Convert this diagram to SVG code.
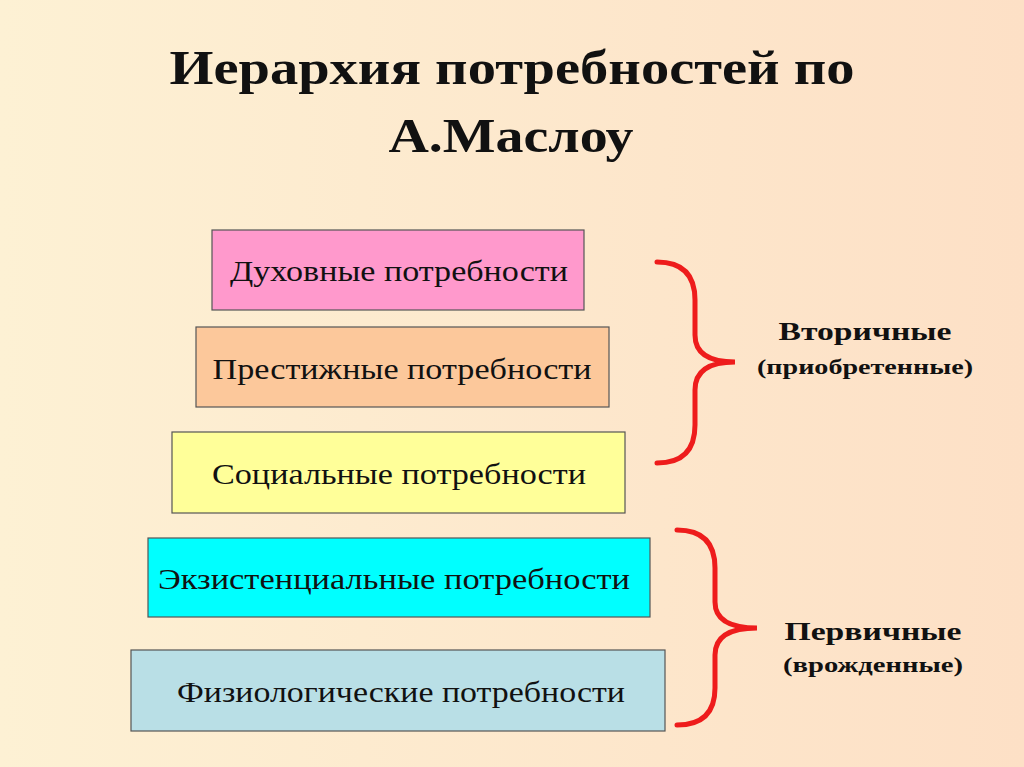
<svg xmlns="http://www.w3.org/2000/svg" width="1024" height="767" viewBox="0 0 1024 767">
<defs>
<linearGradient id="bg" x1="0" y1="0" x2="1" y2="0"><stop offset="0" stop-color="#fdf1d4"/><stop offset="1" stop-color="#fde0c6"/></linearGradient>
<style>
.box{stroke:#555;stroke-width:1.2}
.t{font-family:"Liberation Serif",serif;font-size:29px;fill:#111;text-anchor:middle}
.title{font-family:"Liberation Serif",serif;font-size:48px;font-weight:bold;fill:#111;text-anchor:middle}
.lab{font-family:"Liberation Serif",serif;font-weight:bold;fill:#111;text-anchor:middle}
.brace{fill:none;stroke:#ee1c1c;stroke-width:5;stroke-linecap:round}
</style>
</defs>
<rect width="1024" height="767" fill="url(#bg)"/>
<g id="title"><text class="title" x="512" y="84" textLength="685" lengthAdjust="spacingAndGlyphs">Иерархия потребностей по</text><text class="title" x="511" y="152" textLength="245" lengthAdjust="spacingAndGlyphs">А.Маслоу</text></g>
<g id="n1"><rect class="box" x="212" y="230" width="372" height="80" fill="#ff99cc"/><text class="t" x="399" y="281" textLength="338" lengthAdjust="spacingAndGlyphs">Духовные потребности</text></g>
<g id="n2"><rect class="box" x="196" y="327" width="413" height="80" fill="#fcc89b"/><text class="t" x="402" y="379" textLength="379" lengthAdjust="spacingAndGlyphs">Престижные потребности</text></g>
<g id="n3"><rect class="box" x="172" y="432" width="453" height="81" fill="#ffff99"/><text class="t" x="399" y="484" textLength="374" lengthAdjust="spacingAndGlyphs">Социальные потребности</text></g>
<g id="n4"><rect class="box" x="148" y="538" width="502" height="79" fill="#00ffff"/><text class="t" x="394" y="589" textLength="472" lengthAdjust="spacingAndGlyphs">Экзистенциальные потребности</text></g>
<g id="n5"><rect class="box" x="131" y="650" width="534" height="81" fill="#b9dfe6"/><text class="t" x="401" y="702" textLength="448" lengthAdjust="spacingAndGlyphs">Физиологические потребности</text></g>
<g id="connectors">
<path class="brace" d="M657,262 Q695,262 695,300 L695,335 Q695,362 735,362 Q695,362 695,390 L695,425 Q695,463 657,463"/>
<path class="brace" d="M677,530 Q715,530 715,568 L715,602 Q715,628 757,628 Q715,628 715,655 L715,688 Q715,725 677,725"/>
</g>
<g id="l1"><text class="lab" x="865" y="340" font-size="25" textLength="173" lengthAdjust="spacingAndGlyphs">Вторичные</text><text class="lab" x="865" y="374" font-size="20" textLength="216" lengthAdjust="spacingAndGlyphs">(приобретенные)</text></g>
<g id="l2"><text class="lab" x="873" y="640" font-size="25" textLength="177" lengthAdjust="spacingAndGlyphs">Первичные</text><text class="lab" x="873" y="672" font-size="20" textLength="180" lengthAdjust="spacingAndGlyphs">(врожденные)</text></g>
</svg>
